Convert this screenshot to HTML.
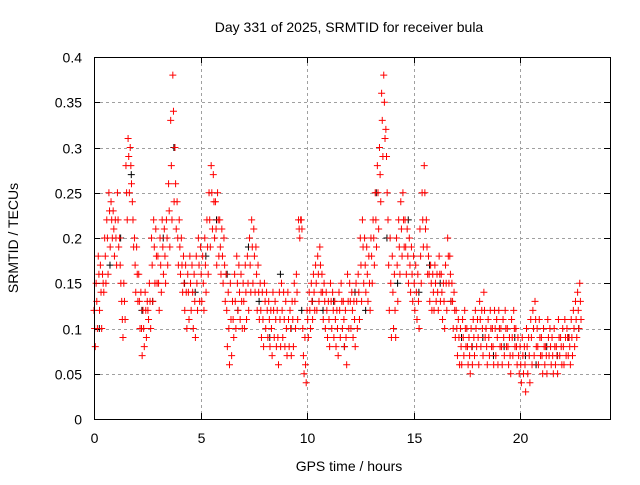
<!DOCTYPE html>
<html><head><meta charset="utf-8"><style>
body{margin:0;background:#fff;}
svg text{font-family:"Liberation Sans",sans-serif;font-size:14px;fill:#000;}
</style></head><body>
<svg id="chart" width="640" height="480" viewBox="0 0 640 480" xmlns="http://www.w3.org/2000/svg">
<rect width="640" height="480" fill="#fff"/>
<g id="grid"></g>
<g id="ticks"></g>
<g id="marks"></g>
<rect x="94.5" y="57.5" width="516" height="362" fill="none" stroke="#000" stroke-width="1"/>
<text x="349" y="32" text-anchor="middle">Day 331 of 2025, SRMTID for receiver bula</text>
<text x="349" y="471" text-anchor="middle">GPS time / hours</text>
<text transform="translate(18,238) rotate(-90)" text-anchor="middle">SRMTID / TECUs</text>
</svg>
<script>
const xTicks=[0,5,10,15,20];
const yTicks=[0,0.05,0.1,0.15,0.2,0.25,0.3,0.35,0.4];
const yTickLabels=["0","0.05","0.1","0.15","0.2","0.25","0.3","0.35","0.4"];
const redStart=0, redStep=0.1;
const redHigh=[.12,.15,.18,.17,.16,.20,.22,.25,.24,.23,
.22,.25,.20,.13,.15,.28,.31,.30,.24,.20,
.19,.16,.14,.12,.14,.13,.15,.20,.22,.21,
.18,.20,.22,.21,.22,.26,.33,.38,.30,.24,
.22,.20,.18,.17,.16,.18,.17,.16,.18,.20,
.19,.18,.20,.22,.25,.28,.27,.24,.25,.22,
.21,.20,.16,.14,.15,.13,.16,.18,.17,.16,
.15,.17,.18,.20,.22,.21,.19,.17,.15,.14,
.15,.14,.13,.12,.14,.13,.12,.14,.15,.14,
.13,.14,.12,.13,.15,.16,.22,.22,.10,.09,
.12,.14,.15,.16,.17,.18,.19,.16,.15,.14,
.13,.15,.14,.13,.12,.14,.15,.13,.12,.16,
.15,.14,.13,.15,.16,.20,.22,.20,.19,.18,
.20,.22,.25,.28,.30,.36,.38,.32,.22,.20,
.18,.16,.20,.22,.24,.25,.22,.21,.20,.19,
.18,.17,.16,.21,.25,.28,.22,.18,.17,.16,
.17,.16,.18,.16,.15,.17,.20,.18,.15,.14,
.12,.11,.10,.11,.12,.10,.09,.10,.11,.12,
.11,.13,.12,.14,.10,.11,.12,.10,.12,.11,
.12,.10,.11,.12,.10,.09,.11,.12,.10,.09,
.08,.09,.08,.10,.09,.11,.12,.13,.10,.11,
.09,.10,.08,.11,.10,.09,.10,.08,.11,.09,
.10,.11,.10,.09,.11,.12,.13,.14,.15];
const redMid=[.10,.13,.16,.14,.15,.18,.20,.23,.22,.21,
.20,.22,.17,.11,.13,.25,.29,.28,.22,.17,
.16,.13,.10,.10,.12,.12,.13,.17,.19,.18,
.15,.17,.19,.18,.20,.23,.28,.34,.26,.20,
.19,.17,.15,.14,.14,.15,.14,.13,.15,.17,
.16,.15,.17,.19,.22,.25,.24,.21,.22,.19,
.18,.17,.12,.10,.11,.11,.13,.15,.14,.13,
.13,.14,.15,.17,.19,.18,.16,.14,.12,.11,
.13,.12,.11,.10,.12,.11,.09,.11,.12,.11,
.10,.11,.10,.11,.13,.14,.21,.22,.07,.06,
.11,.12,.13,.14,.15,.16,.17,.14,.13,.12,
.11,.13,.12,.11,.10,.12,.13,.11,.09,.13,
.13,.12,.11,.13,.14,.17,.19,.17,.16,.15,
.18,.20,.22,.25,.27,.33,.35,.29,.17,.15,
.14,.12,.17,.19,.21,.22,.19,.18,.17,.16,
.15,.14,.13,.18,.22,.25,.19,.16,.15,.14,
.15,.14,.16,.14,.13,.15,.18,.16,.13,.12,
.10,.09,.08,.09,.10,.08,.07,.08,.09,.10,
.09,.11,.10,.12,.08,.09,.10,.08,.10,.09,
.10,.08,.09,.10,.08,.07,.09,.10,.08,.07,
.06,.07,.06,.08,.07,.09,.10,.11,.08,.09,
.07,.08,.07,.09,.08,.07,.08,.07,.09,.08,
.08,.09,.09,.08,.09,.10,.11,.12,.13];
const redLow=[.08,.10,.12,.10,.14,.15,.16,.19,.20,.18,
.17,.19,.15,.09,.11,.22,.25,.26,.19,.14,
.13,.10,.07,.08,.09,.11,.10,.13,.15,.15,
.12,.14,.16,.15,.17,.19,.22,.24,.21,.17,
.16,.14,.12,.10,.11,.12,.10,.09,.12,.13,
.13,.12,.14,.16,.19,.21,.20,.17,.18,.16,
.15,.13,.08,.06,.07,.09,.10,.12,.11,.10,
.10,.11,.12,.14,.15,.14,.12,.11,.09,.08,
.10,.09,.08,.07,.09,.08,.06,.08,.09,.08,
.07,.08,.07,.08,.10,.11,.20,.21,.05,.04,
.09,.10,.11,.12,.12,.13,.14,.11,.10,.09,
.08,.10,.09,.08,.07,.09,.10,.08,.06,.10,
.10,.09,.08,.10,.11,.13,.15,.14,.13,.12,
.15,.17,.19,.21,.24,.29,.31,.25,.12,.09,
.10,.09,.13,.16,.18,.19,.16,.15,.14,.13,
.12,.11,.10,.15,.19,.21,.16,.13,.12,.12,
.13,.12,.13,.11,.10,.12,.15,.13,.10,.09,
.07,.06,.06,.07,.08,.06,.05,.06,.07,.08,
.06,.08,.07,.09,.06,.07,.08,.06,.07,.06,
.08,.06,.07,.08,.06,.05,.07,.08,.06,.05,
.04,.05,.03,.05,.04,.06,.07,.08,.06,.07,
.05,.06,.05,.07,.06,.05,.06,.05,.07,.06,
.06,.07,.07,.06,.07,.08,.09,.10,.11];
const blackStart=0.25, blackStep=0.5;
const blackVals=[.10,.17,.20,.27,.12,.13,.20,.30,.15,.14,.18,.22,.16,.12,.19,.13,.09,.16,.10,.12,.13,.12,.13,.08,.14,.12,.25,.20,.15,.22,.14,.17,.15,.13,.09,.08,.09,.07,.08,.09,.07,.06,.08,.07,.09,.10];

const X0=94,X1=610,XMAX=24.22,Y0=419,Y1=57,YMAX=0.4;
const xs=v=>X0+(v/XMAX)*(X1-X0);
const ys=v=>Y0-(v/YMAX)*(Y0-Y1);
const NS="http://www.w3.org/2000/svg";
const grid=document.getElementById('grid'),ticks=document.getElementById('ticks'),marks=document.getElementById('marks');
function mk(tag,attrs,parent){const e=document.createElementNS(NS,tag);for(const k in attrs)e.setAttribute(k,attrs[k]);parent.appendChild(e);return e;}
xTicks.forEach(t=>{
  const x=Math.round(xs(t))+0.5;
  if(t>0){const g=mk('line',{x1:x,x2:x,y1:57,y2:419,stroke:'#a0a0a0','stroke-dasharray':'3,3'},grid);
  
  }
  const tk=mk('path',{d:`M${x} 419V413M${x} 57V63`,stroke:'#000'},ticks);
  
  
  const l=mk('text',{x:x,y:443,'text-anchor':'middle'},ticks);l.textContent=t;
  
  
});
yTicks.forEach((t,i)=>{
  const y=Math.round(ys(t))+0.5;
  if(t>0&&t<0.4){const g=mk('line',{x1:94,x2:610,y1:y,y2:y,stroke:'#a0a0a0','stroke-dasharray':'3,3'},grid);
  
  }
  const tk=mk('path',{d:`M94 ${y}H100M610 ${y}H604`,stroke:'#000'},ticks);
  
  
  const l=mk('text',{x:82,y:y+5,'text-anchor':'end'},ticks);l.textContent=yTickLabels[i];
  
  
});
function plus(t,v,color,name){
  const x=xs(t),y=ys(v);
  const p=mk('path',{d:`M${x-3.5} ${y}H${x+3.5}M${x} ${y-3.5}V${y+3.5}`,stroke:color,'stroke-width':1},marks);
  
  
}
blackVals.forEach((v,i)=>plus(blackStart+i*blackStep,v,'#000','black-point'));
redHigh.forEach((v,i)=>plus(redStart+i*redStep,v,'#ff0000','red-point'));
redMid.forEach((v,i)=>plus(redStart+i*redStep+0.03,v,'#ff0000','red-point'));
redLow.forEach((v,i)=>plus(redStart+i*redStep+0.06,v,'#ff0000','red-point'));
</script>
</body></html>
